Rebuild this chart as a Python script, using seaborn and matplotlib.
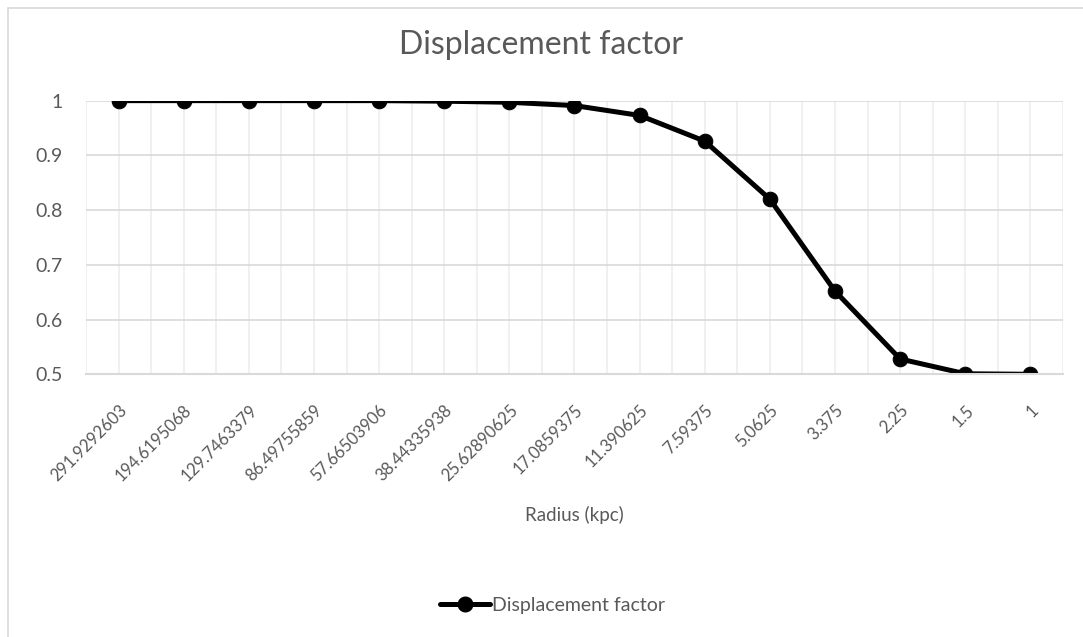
import pandas as pd
import numpy as np
import seaborn as sns
import matplotlib.pyplot as plt
from matplotlib.lines import Line2D

# data
radius = ["291.9292603", "194.6195068", "129.7463379", "86.49755859", "57.66503906",
          "38.44335938", "25.62890625", "17.0859375", "11.390625", "7.59375",
          "5.0625", "3.375", "2.25", "1.5", "1"]
displacement = [1.0, 1.0, 1.0, 1.0, 1.0, 0.999, 0.997, 0.991, 0.973, 0.926,
                0.820, 0.652, 0.528, 0.501, 0.500]
yticks = [0.5, 0.6, 0.7, 0.8, 0.9, 1.0]
ytick_labels = ["0.5", "0.6", "0.7", "0.8", "0.9", "1"]

df = pd.DataFrame({"Radius (kpc)": radius, "Displacement factor": displacement})

sns.set_style("white")
plt.rcParams["font.family"] = ["Lato", "DejaVu Sans"]
text_col = "#595959"

fig = plt.figure(figsize=(10.83, 6.37), dpi=100)
ax = fig.add_axes([0.0794, 0.4124, 0.9021, 0.4296])

sns.lineplot(data=df, x="Radius (kpc)", y="Displacement factor", sort=False,
             color="black", linewidth=3.6, marker="o", markersize=10.5,
             markeredgecolor="black", ax=ax, legend=False)

# axes look
ax.set_xlim(-0.5, len(radius) - 0.5)
ax.set_ylim(0.5, 1.0)
ax.set_yticks(yticks)
ax.set_yticklabels(ytick_labels)
ax.set_xticks(range(len(radius)))
ax.set_xticks(np.arange(-0.5, len(radius), 1.0), minor=True)
ax.set_xticklabels(radius, rotation=45, ha="right", rotation_mode="anchor")

ax.grid(axis="y", which="major", color="#d9d9d9", linewidth=1.2)
ax.grid(axis="x", which="both", color="#ededed", linewidth=1.2)
ax.set_axisbelow(True)
for s in ["top", "right", "left"]:
    ax.spines[s].set_visible(False)
ax.spines["bottom"].set_color("#d9d9d9")
ax.spines["bottom"].set_linewidth(1.5)

ax.tick_params(axis="both", which="both", length=0, colors=text_col)
ax.tick_params(axis="x", labelsize=12, pad=20)
ax.tick_params(axis="y", labelsize=14, pad=17)

ax.set_ylabel("")
ax.set_xlabel("Radius (kpc)", fontsize=13.5, color=text_col)
ax.xaxis.set_label_coords(0.5, -0.48)

fig.text(0.5, 0.929, "Displacement factor", ha="center", va="center",
         fontsize=23, color=text_col)

handle = Line2D([], [], color="black", linewidth=3.6, marker="o", markersize=10.5)
fig.legend([handle], ["Displacement factor"], loc="center", bbox_to_anchor=(0.51, 0.049),
           frameon=False, fontsize=14, labelcolor=text_col, handlelength=2.6,
           handletextpad=0.1)

# chart-area border
fig.add_artist(Line2D([8 / 1083, 8 / 1083], [0, 1 - 8 / 637], color="#d9d9d9",
                      linewidth=1.2, transform=fig.transFigure))
fig.add_artist(Line2D([8 / 1083, 1], [1 - 8 / 637, 1 - 8 / 637], color="#d9d9d9",
                      linewidth=1.2, transform=fig.transFigure))

fig.savefig("out.png", dpi=100)
